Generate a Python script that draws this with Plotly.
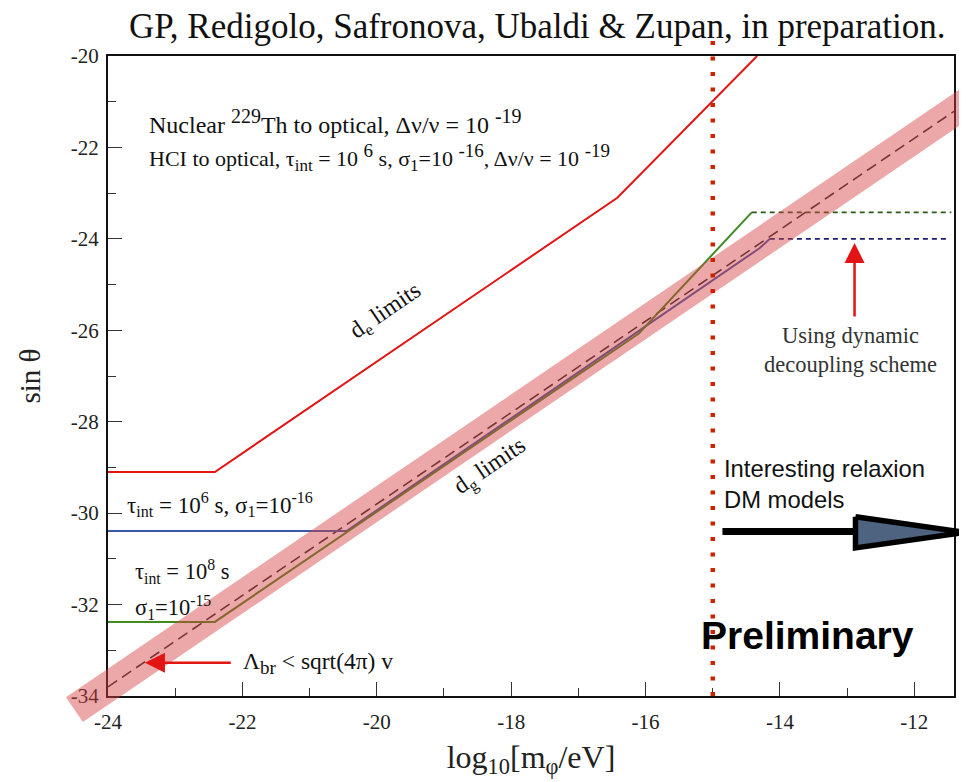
import plotly.graph_objects as go

# ---------------- data ----------------
x_range = [-24.0, -11.41]
y_range = [-34.0, -20.0]
x_ticks = [-24, -22, -20, -18, -16, -14, -12]
y_ticks = [-34, -32, -30, -28, -26, -24, -22, -20]

# d_e limits (red)
de_x = [-24.0, -22.41, -16.42, -14.34]
de_y = [-29.1, -29.1, -23.1, -20.0]

# tau=1e6 s, sigma1=1e-16 (blue)
blue_x = [-24.0, -20.45, -14.3, -14.15]
blue_y = [-30.39, -30.39, -24.2, -24.0]
blue_dd_x = [-14.15, -11.49]
blue_dd_y = [-24.0, -24.0]

# tau=1e8 s, sigma1=1e-15 (green)
green_x = [-24.0, -22.41, -16.1, -14.42]
green_y = [-32.38, -32.38, -26.07, -23.42]
green_dd_x = [-14.42, -11.45]
green_dd_y = [-23.42, -23.42]

# Lambda_br < sqrt(4 pi) v  (dashed centre line and band)
lam_x = [-24.0, -11.41]
lam_y = [-33.8, -21.21]
band_x = [-24.5, -11.0]
band_y = [-34.3, -20.8]

# m_phi boundary of interesting relaxion DM models
relax_x = [-15.0, -15.0]
relax_y = [-34.0, -19.65]

# big black arrow (shaft + head)
shaft_x = [-14.856, -12.876]
shaft_y = [-30.40, -30.40]
head_x = [-12.876, -11.24, -12.876, -12.876]
head_y = [-30.08, -30.42, -30.76, -30.08]

# ---------------- layout geometry ----------------
PAGE_OFF = 8            # default page margin around the plot div
W, H = 967 - PAGE_OFF, 782 - PAGE_OFF
xdom = [(108 - PAGE_OFF) / W, (954 - PAGE_OFF) / W]
ydom = [1 - (696 - PAGE_OFF) / H, 1 - (56 - PAGE_OFF) / H]


def full_range(r, dom):
    span = (r[1] - r[0]) / (dom[1] - dom[0])
    lo = r[0] - dom[0] * span
    return [lo, lo + span]


def sup(s, px):
    return "<sup><span style='font-size:%dpx'>%s</span></sup>" % (px, s)


def sub(s, px):
    return "<sub><span style='font-size:%dpx'>%s</span></sub>" % (px, s)


serif = "Liberation Serif"
sans = "Liberation Sans"

fig = go.Figure()

# main-axis traces
fig.add_trace(go.Scatter(x=lam_x, y=lam_y, mode="lines",
                         line=dict(color="#2a2a2a", width=1.6, dash="11px,6px"),
                         showlegend=False, hoverinfo="skip"))
fig.add_trace(go.Scatter(x=de_x, y=de_y, mode="lines",
                         line=dict(color="#e31414", width=2),
                         showlegend=False))
fig.add_trace(go.Scatter(x=blue_x, y=blue_y, mode="lines",
                         line=dict(color="#3a58a8", width=2),
                         showlegend=False))
fig.add_trace(go.Scatter(x=blue_dd_x, y=blue_dd_y, mode="lines",
                         line=dict(color="#1c1c70", width=1.6, dash="5px,4px"),
                         showlegend=False))
fig.add_trace(go.Scatter(x=green_x, y=green_y, mode="lines",
                         line=dict(color="#3f8a22", width=2),
                         showlegend=False))
fig.add_trace(go.Scatter(x=green_dd_x, y=green_dd_y, mode="lines",
                         line=dict(color="#2c5a1a", width=1.6, dash="5px,4px"),
                         showlegend=False))

# overlay (full-figure) traces
fig.add_trace(go.Scatter(x=band_x, y=band_y, mode="lines", xaxis="x2", yaxis="y2",
                         line=dict(color="rgba(214,66,66,0.46)", width=30),
                         showlegend=False, hoverinfo="skip"))
fig.add_trace(go.Scatter(x=relax_x, y=relax_y, mode="lines", xaxis="x2", yaxis="y2",
                         line=dict(color="#cc2200", width=4.5, dash="4px,11.5px"),
                         showlegend=False, hoverinfo="skip"))
fig.add_trace(go.Scatter(x=shaft_x, y=shaft_y, mode="lines", xaxis="x2", yaxis="y2",
                         line=dict(color="black", width=7),
                         showlegend=False, hoverinfo="skip"))
fig.add_trace(go.Scatter(x=head_x, y=head_y, mode="lines", xaxis="x2", yaxis="y2",
                         fill="toself", fillcolor="#4d6380",
                         line=dict(color="black", width=5.5),
                         showlegend=False, hoverinfo="skip"))

axis_common = dict(showgrid=False, zeroline=False, showline=True, linecolor="#111",
                   linewidth=2, mirror=True, ticks="inside", ticklen=14, tickwidth=1.2,
                   tickcolor="#333", automargin=False,
                   tickfont=dict(family=serif, size=21, color="#222"))

fig.update_layout(
    width=W, height=H,
    margin=dict(l=0, r=0, t=0, b=0, pad=0),
    paper_bgcolor="white", plot_bgcolor="rgba(0,0,0,0)",
    xaxis=dict(domain=xdom, range=x_range, tickvals=x_ticks,
               ticktext=[str(v) for v in x_ticks],
               minor=dict(dtick=1, ticks="inside", ticklen=8, tickcolor="#333"),
               ticklabelstandoff=6,
               title=dict(text="log<sub>10</sub>[m<sub>φ</sub>/eV]",
                          font=dict(family=serif, size=32, color="#222"), standoff=12),
               **axis_common),
    yaxis=dict(domain=ydom, range=y_range, tickvals=y_ticks,
               ticktext=[str(v) for v in y_ticks],
               minor=dict(dtick=1, ticks="inside", ticklen=8, tickcolor="#333"),
               ticklabelstandoff=3,
               title=dict(text="sin θ", font=dict(family=serif, size=29, color="#222"),
                          standoff=22),
               **axis_common),
    xaxis2=dict(domain=[0, 1], range=full_range(x_range, xdom), visible=False,
                anchor="y2", fixedrange=True, automargin=False),
    yaxis2=dict(domain=[0, 1], range=full_range(y_range, ydom), visible=False,
                anchor="x2", fixedrange=True, automargin=False),
)

ann = []


def add(text, x, y, size, family=serif, color="#111", xanchor="left", angle=0,
        xref="x", yref="y", bold=False):
    ann.append(dict(text=("<b>%s</b>" % text) if bold else text, x=x, y=y,
                    xref=xref, yref=yref, showarrow=False, xanchor=xanchor,
                    yanchor="middle", textangle=angle,
                    align=xanchor if xanchor != "center" else "center",
                    font=dict(family=family, size=size, color=color)))


add("GP, Redigolo, Safronova, Ubaldi &amp; Zupan, in preparation.",
    (537.5 - PAGE_OFF) / W, 1 - (27 - PAGE_OFF) / H, 35,
    xanchor="center", xref="paper", yref="paper")
add("Nuclear " + sup("229", 20) + "Th to optical, Δν/ν = 10 " + sup("-19", 20),
    -23.42, -21.44, 24)
add("HCI to optical, τ" + sub("int", 17) + " = 10 " + sup("6", 19) + " s, σ"
    + sub("1", 17) + "=10 " + sup("-16", 19) + ", Δν/ν = 10 " + sup("-19", 19),
    -23.42, -22.23, 22)
add("d<sub>e</sub> limits", -19.87, -25.6, 24, xanchor="center", angle=-34.3)
add("d<sub>g</sub> limits", -18.31, -29.0, 24, xanchor="center", angle=-34.3)
add("τ<sub>int</sub> = 10<sup>6</sup> s, σ<sub>1</sub>=10<sup>-16</sup>", -23.75, -29.81, 23)
add("τ<sub>int</sub> = 10<sup>8</sup> s", -23.63, -31.28, 22.5)
add("σ<sub>1</sub>=10<sup>-15</sup>", -23.63, -32.07, 22.5)
add("Λ" + sub("br", 19) + " &lt; sqrt(4π) v", -22.02, -33.27, 23.5)
add("Using dynamic<br>decoupling scheme", -12.95, -26.43, 22.5, xanchor="center",
    color="#333")
add("Interesting relaxion<br>DM models", -14.86, -29.36, 23.8, family=sans, color="#111")
add("Preliminary", -15.21, -32.68, 39, family=sans, color="black", bold=True)

# red arrows
ann.append(dict(x=-23.45, y=-33.27, ax=-22.15, ay=-33.27, xref="x", yref="y",
                axref="x", ayref="y", text="", showarrow=True, arrowhead=2,
                arrowsize=1.6, arrowwidth=2.5, arrowcolor="#e31414"))
ann.append(dict(x=-12.89, y=-24.09, ax=-12.89, ay=-25.73, xref="x", yref="y",
                axref="x", ayref="y", text="", showarrow=True, arrowhead=2,
                arrowsize=1.6, arrowwidth=2.5, arrowcolor="#e31414"))

fig.update_layout(annotations=ann)

fig.write_html("out.html")
